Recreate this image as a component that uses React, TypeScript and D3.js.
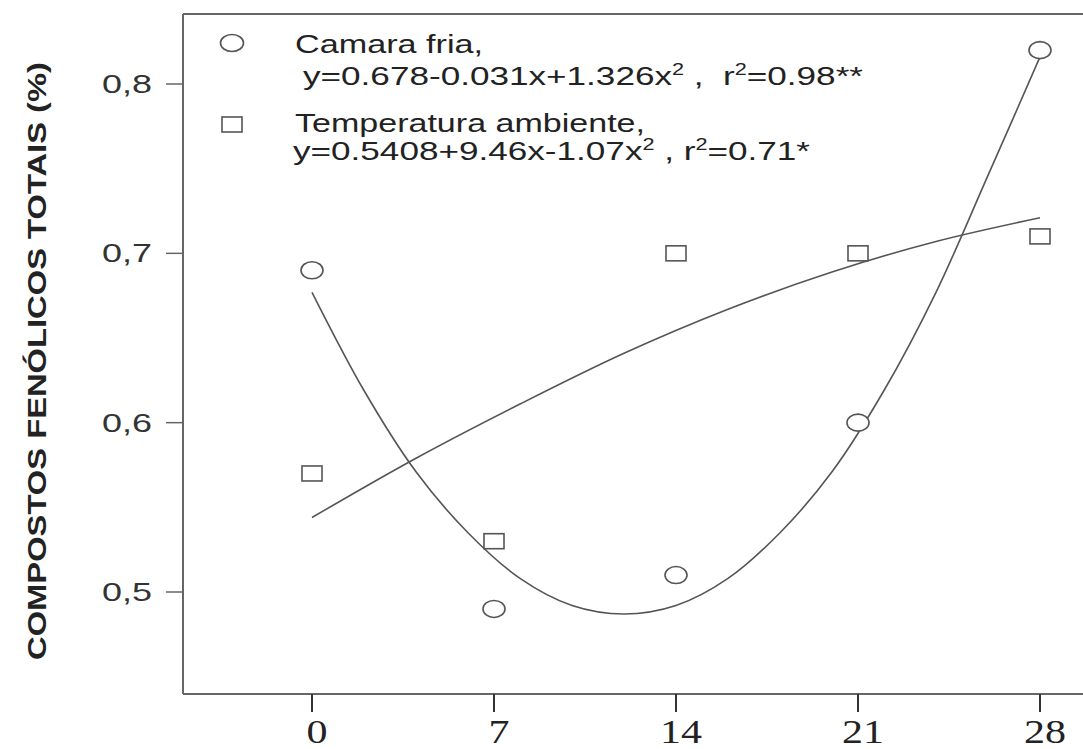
import React from 'react';
import * as d3 from 'd3';

// measured points
const days = [0, 7, 14, 21, 28];
const camaraFria = [0.69, 0.49, 0.51, 0.6, 0.82];
const temperaturaAmbiente = [0.57, 0.53, 0.7, 0.7, 0.71];

// fitted curves
const camaraFitX = [0, 2, 4, 6, 8, 10, 12, 14, 16, 18, 20, 22, 24, 26, 28];
const camaraFitY = [0.677, 0.619, 0.571, 0.535, 0.508, 0.492, 0.487, 0.492, 0.508, 0.535, 0.571, 0.619, 0.677, 0.746, 0.816];
const tempFitX = [0, 4, 8, 12, 16, 20, 24, 28];
const tempFitY = [0.544, 0.579, 0.611, 0.641, 0.667, 0.689, 0.707, 0.721];

const yTicks = [0.5, 0.6, 0.7, 0.8];
const yTickLabels = ['0,5', '0,6', '0,7', '0,8'];
const xTickLabels = ['0', '7', '14', '21', '28'];

const W = 1083;
const H = 749;
const frame = { left: 183, top: 14, bottom: 694 };
const ink = '#555';

// equation text split as [normal, superscript, normal, superscript, normal]
const eqCamara = ['y=0.678-0.031x+1.326x', '2', '\u00a0,\u00a0\u00a0r', '2', '=0.98**'];
const eqTemp = ['y=0.5408+9.46x-1.07x', '2', '\u00a0,\u00a0r', '2', '=0.71*'];

function Equation({ parts, x, y, len }: { parts: string[]; x: number; y: number; len: number }) {
  return (
    <text x={x} y={y} textLength={len} lengthAdjust="spacingAndGlyphs">
      {parts.map((p, i) =>
        i % 2 === 1
          ? <tspan key={i} dy={-10} fontSize={16}>{p}</tspan>
          : <tspan key={i} dy={i === 0 ? 0 : 10}>{p}</tspan>
      )}
    </text>
  );
}

export default function App() {
  const x = d3.scaleLinear().domain([0, 28]).range([312, 1040]);
  const y = d3.scaleLinear().domain([0.5, 0.8]).range([592, 84]);

  const line = d3.line<[number, number]>()
    .x(d => x(d[0]))
    .y(d => y(d[1]))
    .curve(d3.curveCatmullRom);

  const camaraPath = line(camaraFitX.map((v, i) => [v, camaraFitY[i]] as [number, number])) || '';
  const tempPath = line(tempFitX.map((v, i) => [v, tempFitY[i]] as [number, number])) || '';

  const sans = 'Liberation Sans, Arial, sans-serif';

  return (
    <svg width={W} height={H} style={{ position: 'absolute', left: 0, top: 0, background: '#fff' }}>
      {/* frame */}
      <g stroke="#666" strokeWidth={2} fill="none">
        <line x1={frame.left} y1={frame.top} x2={W} y2={frame.top} />
        <line x1={frame.left} y1={frame.top} x2={frame.left} y2={frame.bottom} />
        <line x1={frame.left} y1={frame.bottom} x2={W} y2={frame.bottom} />
      </g>

      {/* y axis */}
      {yTicks.map((t, i) => (
        <g key={t}>
          <line x1={frame.left - 17} x2={frame.left} y1={y(t)} y2={y(t)} stroke="#666" strokeWidth={1.5} />
          <text x={152} y={y(t) + 9} textAnchor="end" fontFamily={sans} fontSize={26} fill="#333"
            textLength={50} lengthAdjust="spacingAndGlyphs">{yTickLabels[i]}</text>
        </g>
      ))}

      {/* x axis */}
      {days.map((d, i) => (
        <g key={d}>
          <line x1={x(d)} x2={x(d)} y1={frame.bottom} y2={frame.bottom + 18} stroke="#333" strokeWidth={2} />
          <text x={x(d) + 5} y={743} textAnchor="middle" fontFamily="Liberation Serif, Times New Roman, serif"
            fontSize={34} fill="#222" textLength={21 * xTickLabels[i].length} lengthAdjust="spacingAndGlyphs">
            {xTickLabels[i]}
          </text>
        </g>
      ))}

      {/* y title */}
      <text transform="translate(46,361) rotate(-90)" textAnchor="middle"
        fontFamily="Liberation Sans Narrow, Arial Narrow, Liberation Sans, sans-serif" fontWeight="bold"
        fontSize={25} fill="#222" textLength={598} lengthAdjust="spacingAndGlyphs">
        COMPOSTOS FENÓLICOS TOTAIS (%)
      </text>

      {/* fitted curves */}
      <path d={camaraPath} fill="none" stroke={ink} strokeWidth={1.6} />
      <path d={tempPath} fill="none" stroke={ink} strokeWidth={1.6} />

      {/* points */}
      {days.map((d, i) => (
        <ellipse key={'c' + d} cx={x(d)} cy={y(camaraFria[i])} rx={11} ry={8.5} fill="#fff" stroke={ink} strokeWidth={1.6} />
      ))}
      {days.map((d, i) => (
        <rect key={'s' + d} x={x(d) - 10} y={y(temperaturaAmbiente[i]) - 7.5} width={20} height={15} fill="#fff" stroke={ink} strokeWidth={1.6} />
      ))}

      {/* legend */}
      <ellipse cx={232} cy={43} rx={11.5} ry={8.5} fill="#fff" stroke={ink} strokeWidth={1.6} />
      <rect x={222} y={117} width={20} height={15} fill="#fff" stroke={ink} strokeWidth={1.6} />
      <g fontFamily={sans} fontSize={26} fill="#222">
        <text x={295} y={53} textLength={188} lengthAdjust="spacingAndGlyphs">Camara fria,</text>
        <Equation parts={eqCamara} x={303} y={85} len={560} />
        <text x={295} y={132} textLength={350} lengthAdjust="spacingAndGlyphs">Temperatura ambiente,</text>
        <Equation parts={eqTemp} x={293} y={160} len={517} />
      </g>
    </svg>
  );
}
